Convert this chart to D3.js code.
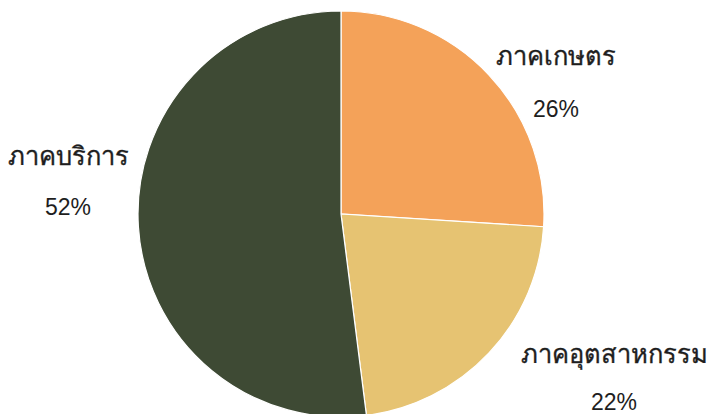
<!DOCTYPE html>
<html>
<head>
<meta charset="utf-8">
<script src="https://cdn.jsdelivr.net/npm/d3@7"></script>
<style>
  html, body { margin: 0; padding: 0; background: #ffffff; }
  svg { display: block; }
  text { font-family: "Liberation Sans", "DejaVu Sans", sans-serif; fill: #1e1e1e; }
</style>
</head>
<body>
<svg id="chart" width="712" height="414"></svg>
<script>
// Share of GDP by economic sector
const sectors = ["ภาคเกษตร", "ภาคอุตสาหกรรม", "ภาคบริการ"];
const shares = [26, 22, 52];
const sectorColors = ["#F4A259", "#E6C372", "#3E4A34"];

const width = 712, height = 414;
const cx = 341, cy = 214, radius = 203;

// Label placement per sector: centre x and baseline y of the name and of the percentage
const labelLayout = {
  "ภาคเกษตร":      { x: 556, nameY: 65,  pctY: 117 },
  "ภาคอุตสาหกรรม": { x: 614, nameY: 363, pctY: 410 },
  "ภาคบริการ":     { x: 68,  nameY: 165, pctY: 215 }
};

const svg = d3.select("#chart");
const g = svg.append("g").attr("transform", `translate(${cx},${cy})`);

const data = sectors.map((s, i) => ({ sector: s, value: shares[i], color: sectorColors[i] }));

const pie = d3.pie().value(d => d.value).sort(null);
const arc = d3.arc().innerRadius(0).outerRadius(radius);

g.selectAll("path")
  .data(pie(data))
  .join("path")
  .attr("d", arc)
  .attr("fill", d => d.data.color)
  .attr("stroke", "#ffffff")
  .attr("stroke-width", 1.2);

const labels = svg.append("g")
  .selectAll("g")
  .data(data)
  .join("g");

labels.append("text")
  .attr("text-anchor", "middle")
  .attr("x", d => labelLayout[d.sector].x)
  .attr("y", d => labelLayout[d.sector].nameY)
  .attr("font-size", 25.5)
  .attr("stroke", "#1e1e1e")
  .attr("stroke-width", 0.35)
  .text(d => d.sector);

labels.append("text")
  .attr("text-anchor", "middle")
  .attr("x", d => labelLayout[d.sector].x)
  .attr("y", d => labelLayout[d.sector].pctY)
  .attr("font-size", 23)
  .text(d => d.value + "%");
</script>
</body>
</html>
